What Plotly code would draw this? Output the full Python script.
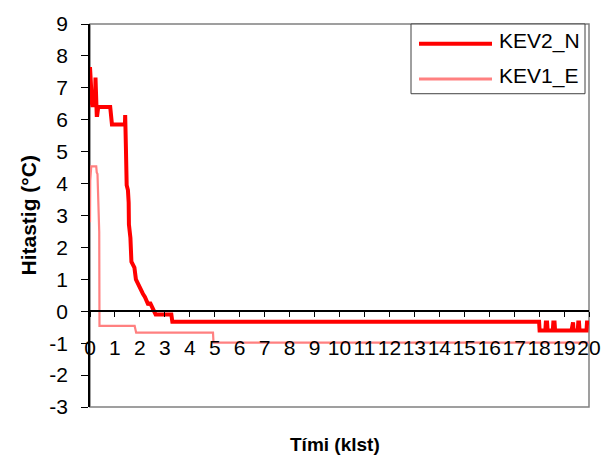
import plotly.graph_objects as go

# ---- data (time in hours, temperature in °C) ----
kev2_t = [0.00, 0.02, 0.04, 0.06, 0.08, 0.10, 0.12, 0.14, 0.17, 0.20, 0.22, 0.23, 0.25, 0.27, 0.29, 0.31, 0.33,
          0.81, 0.88, 1.40, 1.41, 1.44, 1.45, 1.47, 1.52, 1.55, 1.56, 1.62, 1.66, 1.70, 1.78, 1.84, 1.92, 2.00,
          2.05, 2.12, 2.20, 2.28, 2.34, 2.40, 2.47, 2.52, 2.58, 2.63, 3.26, 3.30,
          18.00, 18.02, 18.25, 18.27, 18.32, 18.34, 18.55, 18.57, 18.62, 18.64, 19.30, 19.32, 19.36,
          19.38, 19.55, 19.57, 19.60, 19.62, 19.90, 19.92, 20.00]
kev2_v = [7.65, 7.20, 6.95, 6.70, 6.50, 6.40, 6.90, 6.45, 6.55, 6.45, 7.32, 6.80, 6.40, 6.15, 6.15, 6.40, 6.40,
          6.40, 5.85, 5.85, 6.15, 5.10, 4.60, 3.95, 3.80, 3.40, 2.72, 2.30, 1.55, 1.50, 1.37, 1.00, 0.86, 0.70,
          0.62, 0.55, 0.45, 0.30, 0.20, 0.28, 0.15, 0.12, 0.00, -0.10, -0.10, -0.33,
          -0.33, -0.60, -0.60, -0.35, -0.35, -0.60, -0.60, -0.35, -0.35, -0.60, -0.60, -0.35, -0.35,
          -0.60, -0.60, -0.35, -0.35, -0.60, -0.60, -0.35, -0.35]

kev1_t = [0.00, 0.01, 0.05, 0.25, 0.27, 0.30, 0.37, 0.38, 1.79, 1.85, 4.93, 4.95, 20.00]
kev1_v = [2.79, 4.10, 4.54, 4.54, 4.35, 4.30, 2.49, -0.46, -0.46, -0.67, -0.67, -0.98, -0.98]

series_names = ["KEV2_N", "KEV1_E"]
series_colors = ["#FF0000", "#FF8080"]
x_ticks = list(range(0, 21))
y_ticks = list(range(-3, 10))

FONT = "Liberation Sans, Arial, sans-serif"

fig = go.Figure()
fig.add_trace(go.Scatter(x=kev1_t, y=kev1_v, mode="lines", name=series_names[1],
                         line=dict(color=series_colors[1], width=2.2), showlegend=False))
fig.add_trace(go.Scatter(x=kev2_t, y=kev2_v, mode="lines", name=series_names[0],
                         line=dict(color=series_colors[0], width=4), showlegend=False))

fig.update_layout(
    width=614, height=461,
    margin=dict(l=90, r=25, t=17, b=54),
    paper_bgcolor="white", plot_bgcolor="white",
    font=dict(family=FONT, size=21, color="black"),
    xaxis=dict(range=[0, 20], tickvals=x_ticks, ticktext=[str(v) for v in x_ticks],
               anchor="free", position=0.25, showgrid=False, zeroline=False,
               showline=True, linecolor="black", linewidth=1.5,
               ticks="outside", ticklen=5, tickcolor="black", tickwidth=1,
               tickangle=0, ticklabelstandoff=13, tickfont=dict(size=21)),
    yaxis=dict(range=[-3, 9], tickvals=y_ticks, ticktext=[str(v) for v in y_ticks],
               showgrid=False, zeroline=False, showline=True, linecolor="black", linewidth=1.5,
               ticks="outside", ticklen=7, tickcolor="black", tickwidth=1,
               ticklabelstandoff=9, tickfont=dict(size=21)),
)

# plot frame (grey)
fig.add_shape(type="rect", xref="paper", yref="paper", x0=0, x1=1, y0=0, y1=1,
              line=dict(color="#808080", width=1.5), layer="below")

# legend box (manual, to match long line samples)
lx0, lx1 = (411 - 90) / 499, (585 - 90) / 499
ly_top, ly_bot = (407 - 17) / 390, (407 - 88) / 390
fig.add_shape(type="rect", xref="paper", yref="paper", x0=lx0, x1=lx1, y0=ly_bot, y1=ly_top,
              line=dict(color="#404040", width=1), fillcolor="white", layer="above")
rows = [(37, 34.5), (73, 70)]
for i, (ly, ty) in enumerate(rows):
    yy = (407 - ly) / 390
    fig.add_shape(type="line", xref="paper", yref="paper",
                  x0=(419 - 90) / 499, x1=(492 - 90) / 499, y0=yy, y1=yy,
                  line=dict(color=series_colors[i], width=4 if i == 0 else 3), layer="above")
    fig.add_annotation(xref="paper", yref="paper", x=(497 - 90) / 499, y=(407 - ty) / 390,
                       text=series_names[i], showarrow=False, xanchor="left", yanchor="middle",
                       font=dict(size=21, family=FONT, color="black"))

# axis titles
fig.add_annotation(xref="paper", yref="paper", x=(335 - 90) / 499, y=(407 - 445) / 390,
                   text="<b>Tími (klst)</b>", showarrow=False, xanchor="center", yanchor="middle",
                   font=dict(size=19, family=FONT, color="black"))
fig.add_annotation(xref="paper", yref="paper", x=(28 - 90) / 499, y=0.5,
                   text="<b>Hitastig (°C)</b>", showarrow=False, textangle=-90,
                   xanchor="center", yanchor="middle",
                   font=dict(size=21, family=FONT, color="black"))

fig.write_html("out.html")
